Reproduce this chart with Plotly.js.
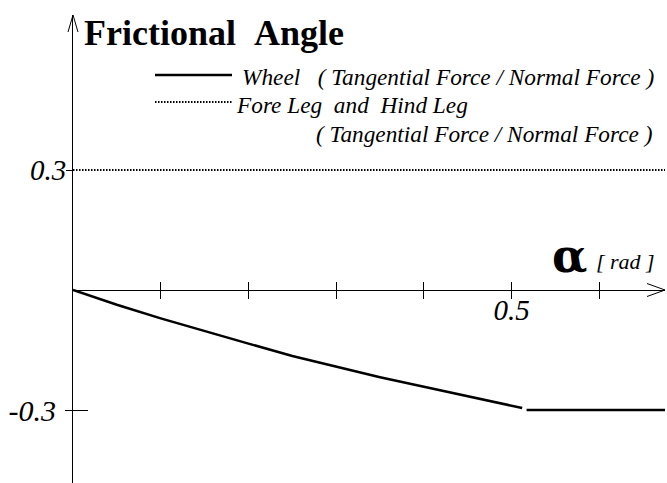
<!DOCTYPE html>
<html>
<head>
<meta charset="utf-8">
<script src="https://cdn.plot.ly/plotly-3.0.1.min.js"></script>
<style>html,body{margin:0;padding:0;background:#fff;}</style>
</head>
<body>
<div id="chart" style="width:667px;height:483px;"></div>
<script>
// Wheel: tangential / normal force ratio against slope angle alpha [rad]
const wheelAlpha = [0, 0.05, 0.10, 0.15, 0.20, 0.25, 0.30, 0.35, 0.40, 0.45, 0.50, 0.512];
const wheelRatio = [0, -0.037, -0.071, -0.103, -0.134, -0.165, -0.192, -0.218, -0.242, -0.265, -0.289, -0.295];
// Wheel after the ratio saturates
const wheelFlatAlpha = [0.517, 0.675];
const wheelFlatRatio = [-0.3, -0.3];
// Fore leg and hind leg: constant ratio
const legAlpha = [0, 0.675];
const legRatio = [0.3, 0.3];
// Axis ticks
const xTicks = [0.1, 0.2, 0.3, 0.4, 0.5, 0.6];
const xTickText = ['', '', '', '', '0.5', ''];
const yTopTicks = [0.3];
const yTopTickText = ['0.3'];
const yBottomTicks = [-0.3];
const yBottomTickText = ['-0.3'];

const W = 667, H = 483;
const M = {l: 73, r: 2, t: 15, b: 0};
const plotW = W - M.l - M.r, plotH = H - M.t - M.b;
const xRange = [0, 0.6748];
const yRange = [-0.4825, 0.6875];
const zeroFrac = (0 - yRange[0]) / (yRange[1] - yRange[0]);

// pixel position -> paper fraction
const px = x => (x - M.l) / plotW;
const py = y => (H - M.b - y) / plotH;

const FONT = 'Liberation Serif, Times New Roman, serif';
const black = '#000';
const dotDash = '1.5px,1.5px';
const keyFont = {family: FONT, size: 23.3, style: 'italic', color: black};

// the traces are spread over overlaid axis pairs so every tick set gets drawn
const traces = [
  {x: wheelAlpha, y: wheelRatio, xaxis: 'x', yaxis: 'y', mode: 'lines',
   line: {color: black, width: 2.5}, hoverinfo: 'skip'},
  {x: wheelFlatAlpha, y: wheelFlatRatio, xaxis: 'x2', yaxis: 'y2', mode: 'lines',
   line: {color: black, width: 2.5}, hoverinfo: 'skip'},
  {x: legAlpha, y: legRatio, xaxis: 'x', yaxis: 'y3', mode: 'lines',
   line: {color: black, width: 2, dash: dotDash}, hoverinfo: 'skip'}
];

const tickFont = {family: FONT, size: 29, style: 'italic', color: black};

const layout = {
  width: W, height: H,
  margin: M,
  paper_bgcolor: '#fff', plot_bgcolor: '#fff',
  showlegend: false,
  xaxis: {
    range: xRange, anchor: 'free', position: zeroFrac,
    showline: true, linecolor: black, linewidth: 1,
    ticks: 'outside', ticklen: 8, tickwidth: 1, tickcolor: black,
    tickvals: xTicks, ticktext: xTickText, tickfont: tickFont,
    ticklabelstandoff: -14,
    showgrid: false, zeroline: false, fixedrange: true
  },
  xaxis2: {
    range: xRange, overlaying: 'x', anchor: 'free', position: zeroFrac,
    showline: false, ticks: 'inside', ticklen: 8, tickwidth: 1, tickcolor: black,
    tickvals: xTicks, showticklabels: false,
    showgrid: false, zeroline: false, fixedrange: true
  },
  yaxis: {
    range: yRange, anchor: 'x',
    showline: true, linecolor: black, linewidth: 1,
    ticks: 'outside', ticklen: 6, tickwidth: 1, tickcolor: black,
    tickvals: yTopTicks, ticktext: yTopTickText, tickfont: tickFont,
    ticklabelstandoff: -6,
    showgrid: false, zeroline: false, fixedrange: true
  },
  yaxis2: {
    range: yRange, overlaying: 'y', anchor: 'x',
    showline: false,
    ticks: 'outside', ticklen: 7, tickwidth: 1, tickcolor: black,
    tickvals: yBottomTicks, ticktext: yBottomTickText,
    tickfont: {family: FONT, size: 30, style: 'italic', color: black},
    ticklabelstandoff: 3,
    showgrid: false, zeroline: false, fixedrange: true
  },
  yaxis3: {
    range: yRange, overlaying: 'y', anchor: 'x',
    showline: false,
    ticks: 'inside', ticklen: 15, tickwidth: 1, tickcolor: black,
    tickvals: yBottomTicks, showticklabels: false,
    showgrid: false, zeroline: false, fixedrange: true
  },
  shapes: [
    // arrowhead at the end of the alpha axis
    {type: 'line', xref: 'paper', yref: 'paper', xsizemode: 'pixel', ysizemode: 'pixel',
     xanchor: 1, yanchor: zeroFrac, x0: -18, x1: 0, y0: 6.5, y1: 0, line: {color: black, width: 1}},
    {type: 'line', xref: 'paper', yref: 'paper', xsizemode: 'pixel', ysizemode: 'pixel',
     xanchor: 1, yanchor: zeroFrac, x0: -18, x1: 0, y0: -6.5, y1: 0, line: {color: black, width: 1}},
    // arrowhead at the top of the ratio axis
    {type: 'line', xref: 'paper', yref: 'paper', xsizemode: 'pixel', ysizemode: 'pixel',
     xanchor: 0, yanchor: 1, x0: -5, x1: 0, y0: -17, y1: 0, line: {color: black, width: 1}},
    {type: 'line', xref: 'paper', yref: 'paper', xsizemode: 'pixel', ysizemode: 'pixel',
     xanchor: 0, yanchor: 1, x0: 5, x1: 0, y0: -17, y1: 0, line: {color: black, width: 1}},
    // key samples
    {type: 'line', xref: 'paper', yref: 'paper', x0: px(155), x1: px(232), y0: py(75), y1: py(75),
     line: {color: black, width: 2.5}},
    {type: 'line', xref: 'paper', yref: 'paper', x0: px(155), x1: px(232), y0: py(102), y1: py(102),
     line: {color: black, width: 2, dash: dotDash}}
  ],
  annotations: [
    {text: 'Frictional\u00a0\u00a0Angle', xref: 'paper', yref: 'paper', x: px(82), y: py(33),
     xanchor: 'left', yanchor: 'middle', showarrow: false,
     font: {family: FONT, size: 36, weight: 'bold', color: black}},
    {text: 'Wheel\u00a0\u00a0\u00a0(\u00a0Tangential Force / Normal Force\u00a0)', xref: 'paper', yref: 'paper',
     x: px(240), y: py(77), xanchor: 'left', yanchor: 'middle', showarrow: false,
     font: keyFont},
    {text: 'Fore Leg\u00a0\u00a0and\u00a0\u00a0Hind Leg', xref: 'paper', yref: 'paper',
     x: px(234), y: py(105), xanchor: 'left', yanchor: 'middle', showarrow: false,
     font: keyFont},
    {text: '(\u00a0Tangential Force / Normal Force\u00a0)', xref: 'paper', yref: 'paper',
     x: px(314), y: py(134), xanchor: 'left', yanchor: 'middle', showarrow: false,
     font: keyFont},
    {text: 'α', xref: 'paper', yref: 'paper', x: px(550), y: py(256),
     xanchor: 'left', yanchor: 'middle', showarrow: false,
     font: {family: 'DejaVu Serif, serif', size: 46, weight: 'bold', color: black}},
    {text: '[ rad ]', xref: 'paper', yref: 'paper', x: px(594), y: py(261),
     xanchor: 'left', yanchor: 'middle', showarrow: false,
     font: {family: FONT, size: 22, style: 'italic', color: black}}
  ]
};

Plotly.newPlot('chart', traces, layout, {staticPlot: true, displayModeBar: false});
</script>
</body>
</html>
